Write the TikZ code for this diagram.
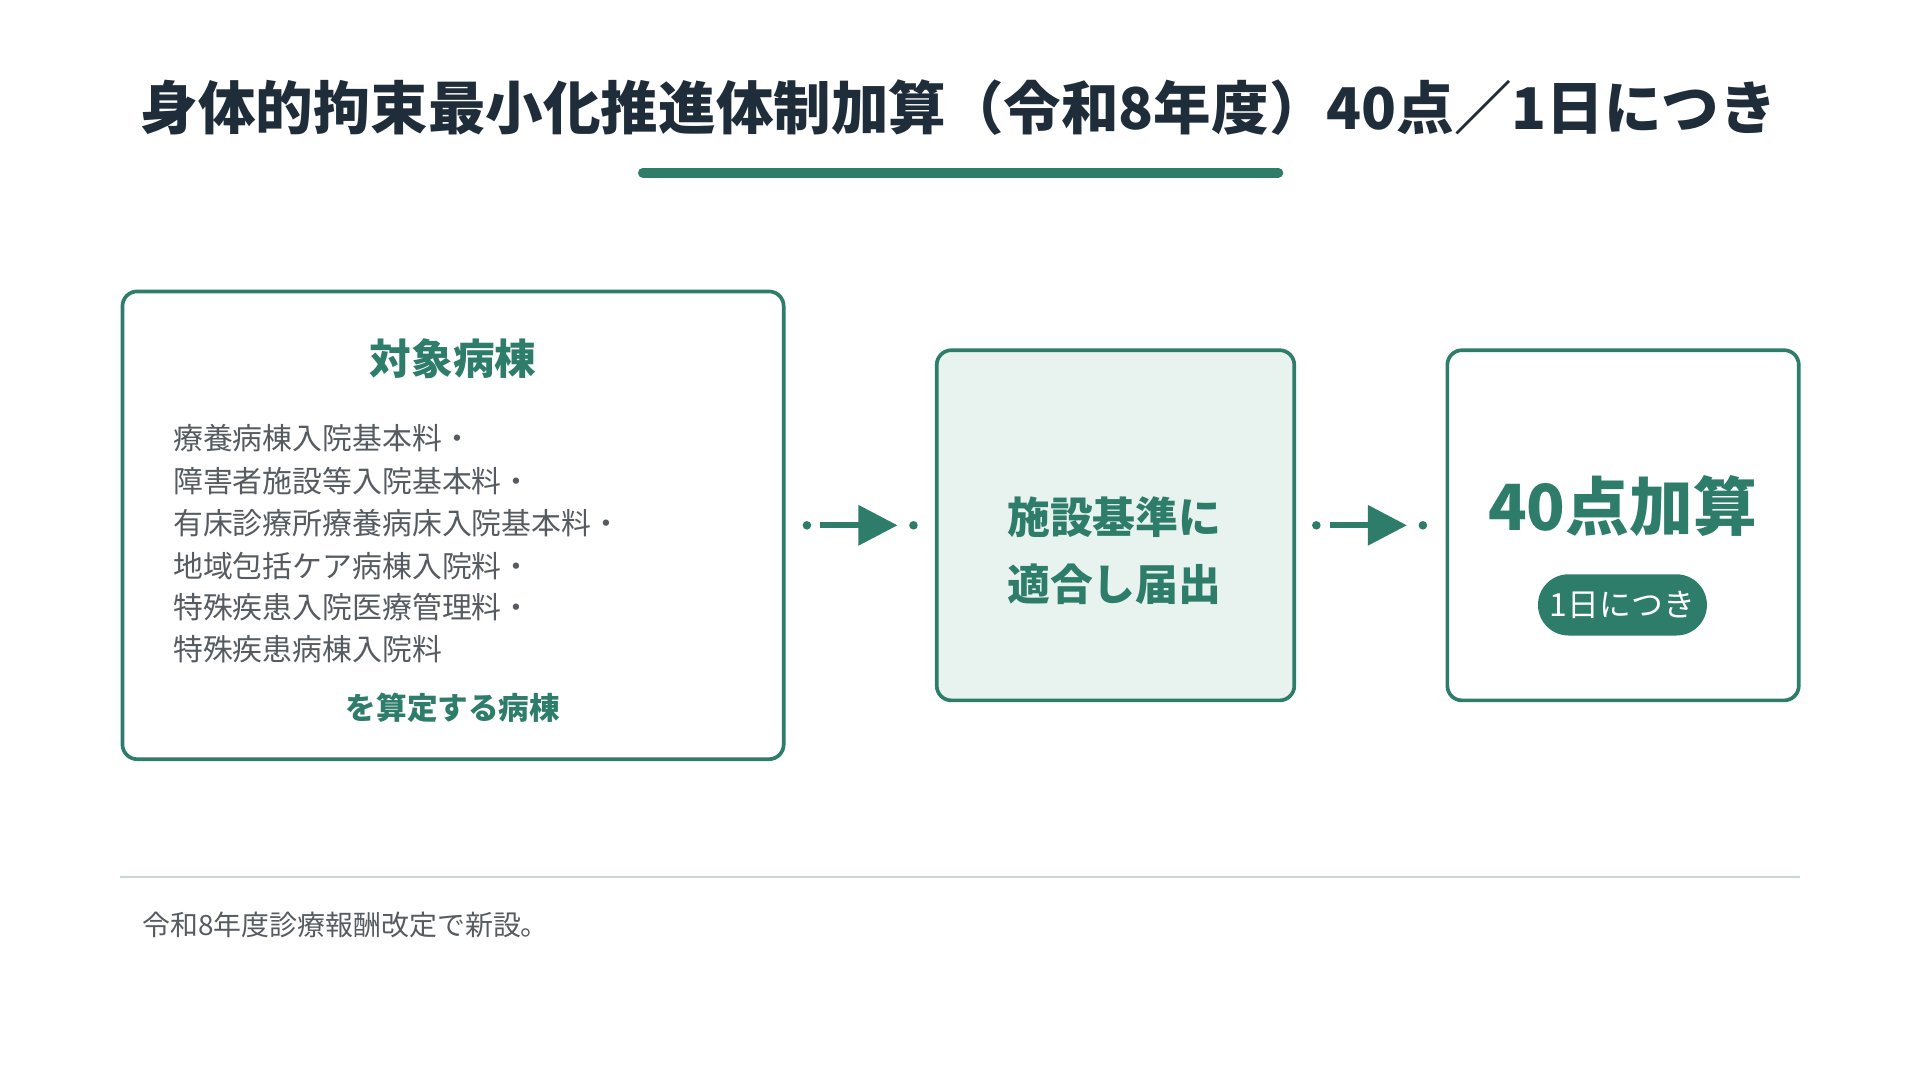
\documentclass[tikz,border=0pt]{standalone}
\usepackage{fontspec}
\usetikzlibrary{arrows.meta}
\setmainfont{Noto Sans CJK JP}
\begin{document}
\definecolor{teal}{HTML}{2E7D6B}
\definecolor{dark}{HTML}{1F2D3A}
\definecolor{txt}{HTML}{555B60}
\definecolor{pale}{HTML}{E8F2EE}
\definecolor{sep}{HTML}{C8D6D4}
\begin{tikzpicture}[x=0.5pt,y=-0.5pt,
 box/.style={draw=teal,line width=1.5pt,rounded corners=6pt},
 item/.style={anchor=west,text=txt,font=\fontsize{12.2}{14}\selectfont,inner sep=0},
 dot/.style={circle,fill=teal,inner sep=0,minimum size=3.5pt},
 arr/.style={teal,line width=2.5pt,-{Triangle[length=16pt,width=16pt]}}]
\useasboundingbox (0,0) rectangle (1568,882);
\node (title) at (783,88) {\fontsize{23.5}{28}\selectfont\bfseries\color{dark}身体的拘束最小化推進体制加算（令和8年度）40点／1日につき};
\draw[teal,line width=4pt,line cap=round] (525,141) coordinate (u1) -- (1044,141) coordinate (u2);
\draw[box] (100,238) rectangle (640,620);
\node (lt) at (370,293) {\fontsize{17}{20}\selectfont\bfseries\color{teal}対象病棟};
\node[item] (i1) at (141,358) {療養病棟入院基本料・};
\node[item] (i2) at (141,393) {障害者施設等入院基本料・};
\node[item] (i3) at (141,427) {有床診療所療養病床入院基本料・};
\node[item] (i4) at (141,462) {地域包括ケア病棟入院料・};
\node[item] (i5) at (141,496) {特殊疾患入院医療管理料・};
\node[item] (i6) at (141,530) {特殊疾患病棟入院料};
\node (lb) at (370,578) {\fontsize{12.5}{15}\selectfont\bfseries\color{teal}を算定する病棟};
\node[dot] (d1) at (659,429) {};
\node[dot] (d2) at (746,429) {};
\coordinate (a1s) at (670,429); \coordinate (a1e) at (733,429);
\draw[arr] (a1s) -- (a1e);
\draw[box,fill=pale] (765,286) rectangle (1057,572);
\node (m1) at (910,422) {\fontsize{17.5}{20}\selectfont\bfseries\color{teal}施設基準に};
\node (m2) at (910,477) {\fontsize{17.5}{20}\selectfont\bfseries\color{teal}適合し届出};
\node[dot] (d3) at (1075,429) {};
\node[dot] (d4) at (1162,429) {};
\coordinate (a2s) at (1086,429); \coordinate (a2e) at (1149,429);
\draw[arr] (a2s) -- (a2e);
\draw[box] (1182,286) rectangle (1469,572);
\node (r1) at (1325,413) {\fontsize{26}{30}\selectfont\bfseries\color{teal}40点加算};
\node[fill=teal,rounded corners=12.5pt,minimum width=69pt,minimum height=25pt,text=white,font=\fontsize{13}{15}\selectfont\addfontfeatures{FakeBold=0}] (pill) at (1325,494) {1日につき};
\draw[sep,line width=1pt] (98,716) coordinate (s1) -- (1470,716) coordinate (s2);
\node[item,text=txt,font=\fontsize{11.4}{14}\selectfont] (foot) at (116,755) {令和8年度診療報酬改定で新設。};
\end{tikzpicture}
\end{document}
